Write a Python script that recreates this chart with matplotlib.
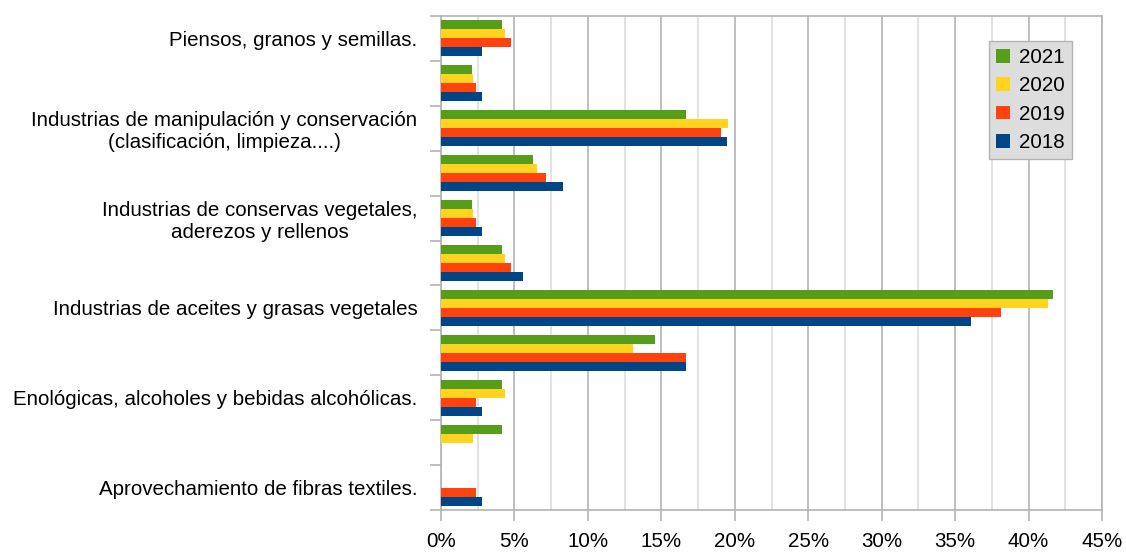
import numpy as np
import matplotlib.pyplot as plt
from matplotlib.ticker import MultipleLocator, FuncFormatter

plt.rcParams['font.family'] = ['Liberation Sans', 'DejaVu Sans']

# Categorías de arriba a abajo (las sin rótulo quedan vacías)
categorias = [
    "Piensos, granos y semillas.",
    "",
    "Industrias de manipulación y conservación\n(clasificación, limpieza....)",
    "",
    "Industrias de conservas vegetales,\naderezos y rellenos",
    "",
    "Industrias de aceites y grasas vegetales",
    "",
    "Enológicas, alcoholes y bebidas alcohólicas.",
    "",
    "Aprovechamiento de fibras textiles.",
]

# Porcentajes por año
v2021 = [4.17, 2.08, 16.67, 6.25, 2.08, 4.17, 41.67, 14.58, 4.17, 4.17, 0.0]
v2020 = [4.35, 2.17, 19.57, 6.52, 2.17, 4.35, 41.30, 13.04, 4.35, 2.17, 0.0]
v2019 = [4.76, 2.38, 19.05, 7.14, 2.38, 4.76, 38.10, 16.67, 2.38, 0.0, 2.38]
v2018 = [2.78, 2.78, 19.44, 8.33, 2.78, 5.56, 36.11, 16.67, 2.78, 0.0, 2.78]

series = [("2021", v2021, "#579d1c"),
          ("2020", v2020, "#ffd320"),
          ("2019", v2019, "#ff420e"),
          ("2018", v2018, "#004586")]

n = len(categorias)
y = np.arange(n)[::-1]
alto = 0.2
desplaz = [0.3, 0.1, -0.1, -0.3]

fig = plt.figure(figsize=(11.26, 5.52), dpi=100)
ax = fig.add_axes([441/1126, 1 - 510/552, (1102 - 441)/1126, (510 - 16)/552])

for (nombre, vals, color), d in zip(series, desplaz):
    ax.barh(y + d, vals, height=alto, color=color, label=nombre, zorder=3)

ax.set_xlim(0, 45)
ax.set_ylim(-0.5, n - 0.5)

ax.xaxis.set_major_locator(MultipleLocator(5))
ax.xaxis.set_minor_locator(MultipleLocator(2.5))
ax.xaxis.set_major_formatter(FuncFormatter(lambda v, p: f"{v:.0f}%"))
ax.grid(axis='x', which='major', color='#b3b3b3', lw=1.2, zorder=0)
ax.grid(axis='x', which='minor', color='#dddddd', lw=1.2, zorder=0)
ax.tick_params(axis='x', which='major', length=8, width=1.2, color='#b3b3b3',
               labelsize=14.8, pad=8)
ax.tick_params(axis='x', which='minor', length=0)

ax.set_yticks(y)
ax.set_yticklabels(categorias, multialignment='center')
ax.set_yticks(np.arange(-0.5, n, 1.0), minor=True)
ax.tick_params(axis='y', which='major', length=0, labelsize=14.8, pad=17)
ax.tick_params(axis='y', which='minor', length=8, width=1.2, color='#b3b3b3')

for s in ax.spines.values():
    s.set_color('#b3b3b3')
    s.set_linewidth(1.2)

leg = ax.legend(loc='upper right', bbox_to_anchor=(1072/1126, 1 - 41/552),
                bbox_transform=fig.transFigure, fontsize=14.8, frameon=True,
                fancybox=False, handlelength=0.65, handleheight=0.65,
                handletextpad=0.45, labelspacing=0.45, borderpad=0.35,
                borderaxespad=0)
leg.get_frame().set_facecolor('#dddddd')
leg.get_frame().set_edgecolor('#b3b3b3')
leg.get_frame().set_alpha(1)

plt.savefig("out.png", dpi=100)
